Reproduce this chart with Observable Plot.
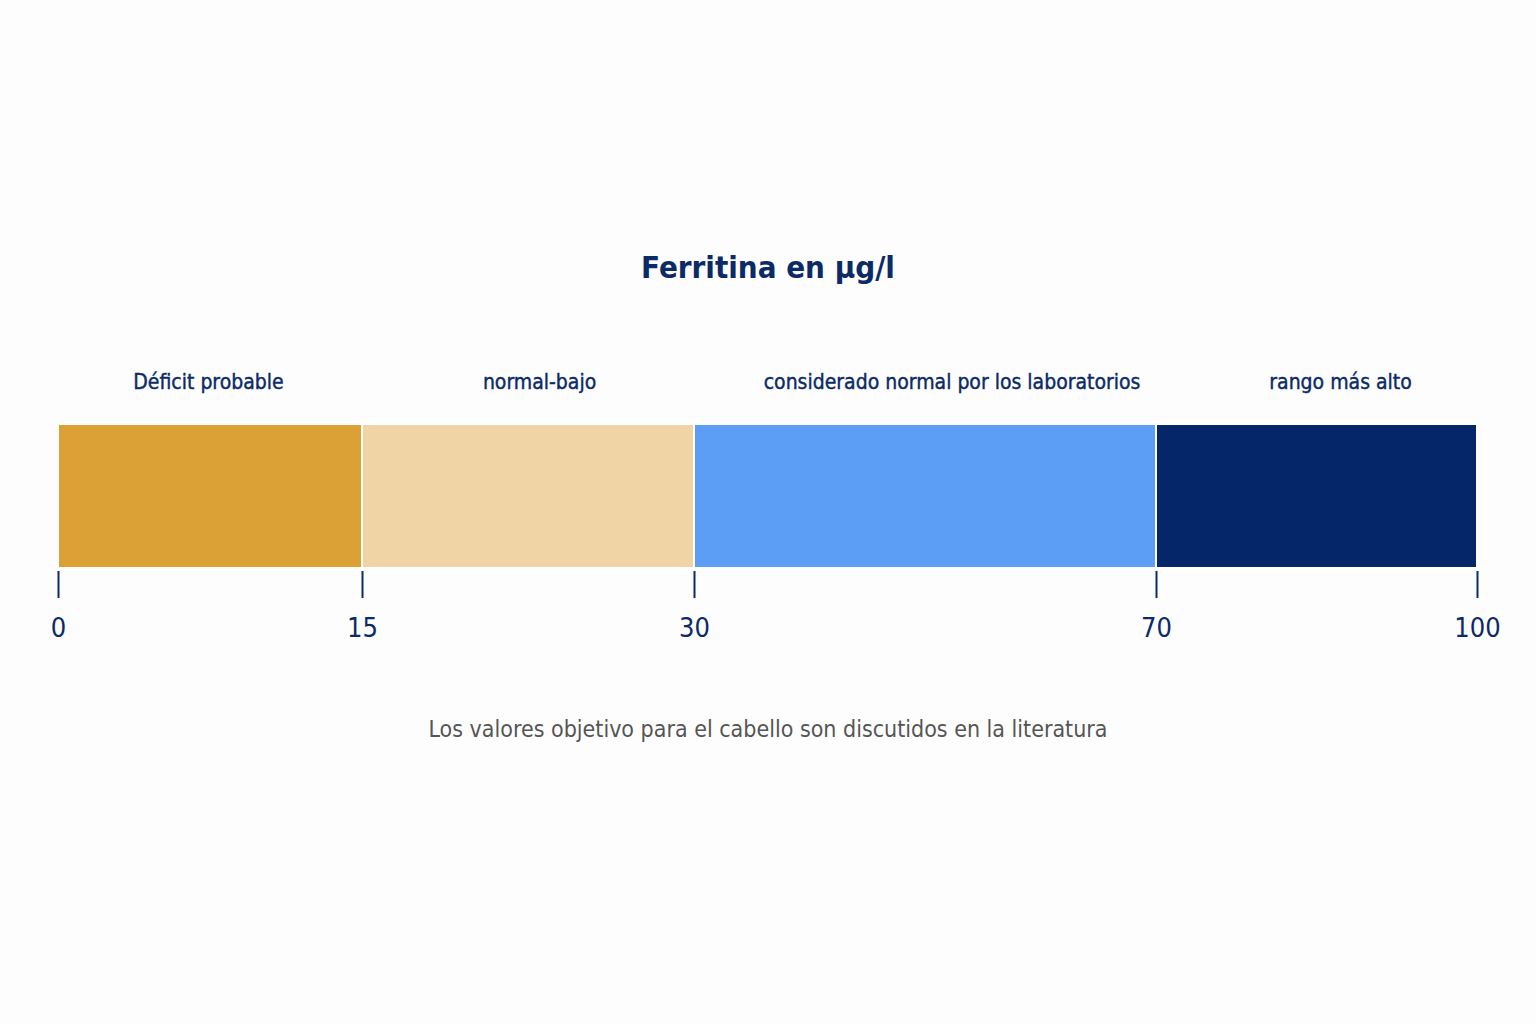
<!DOCTYPE html>
<html>
<head>
<meta charset="utf-8">
<script src="https://cdn.jsdelivr.net/npm/d3@7"></script>
<script src="https://cdn.jsdelivr.net/npm/@observablehq/plot@0.6"></script>
<style>
  html, body { margin: 0; padding: 0; background: #fdfdfd; width: 1536px; height: 1024px; overflow: hidden; }
  #title { position: absolute; top: 248px; left: 0; width: 1536px; text-align: center;
    font-family: "DejaVu Sans Condensed", sans-serif; font-weight: 700;
    font-size: 31px; line-height: 38px; color: #0b2a66; }
  #chart { position: absolute; top: 340px; left: 0; }
  #caption { position: absolute; top: 715px; left: 0; width: 1536px; text-align: center;
    font-family: "DejaVu Sans Condensed", sans-serif; font-size: 23px; line-height: 28px; color: #555; }
</style>
</head>
<body>
<div id="title">Ferritina en µg/l</div>
<div id="chart"></div>
<div id="caption">Los valores objetivo para el cabello son discutidos en la literatura</div>
<script>
const categories = ["Déficit probable", "normal-bajo", "considerado normal por los laboratorios", "rango más alto"];
const starts = [0, 15, 30, 70];
const ends = [15, 30, 70, 100];
const labelAt = [7.4, 23, 52.3, 87.2];
const colors = ["#dca136", "#f0d4a6", "#5c9ef5", "#05276a"];
const breaks = [0, 15, 30, 70, 100];
const breakPixels = [58, 362, 694, 1156, 1477];

const segments = categories.map((c, i) => ({name: c, start: starts[i], end: ends[i], label: labelAt[i], color: colors[i]}));
const font = '"DejaVu Sans Condensed", sans-serif';

const plot = Plot.plot({
  width: 1536,
  height: 340,
  marginTop: 84,
  marginBottom: 112,
  marginLeft: 0,
  marginRight: 0,
  style: {background: "transparent", fontFamily: font, color: "#0b2a66", overflow: "visible"},
  x: {type: "linear", domain: breaks, range: breakPixels},
  marks: [
    Plot.barX(segments, {x1: "start", x2: "end", fill: "color", stroke: "#ffffff", strokeWidth: 2}),
    Plot.text(segments, {x: "label", text: "name", frameAnchor: "top", lineAnchor: "middle", dy: -42, fontSize: 21, fontWeight: 400, fill: "#0b2a66", stroke: "#0b2a66", strokeWidth: 0.4}),
    Plot.axisX({ticks: breaks, tickSize: 27, tickPadding: 19, dy: 3, fontSize: 27, stroke: "#0b2a66", strokeWidth: 2, fill: "#0b2a66", tickFormat: d => String(d), label: null})
  ]
});
document.getElementById("chart").appendChild(plot);
</script>
</body>
</html>
